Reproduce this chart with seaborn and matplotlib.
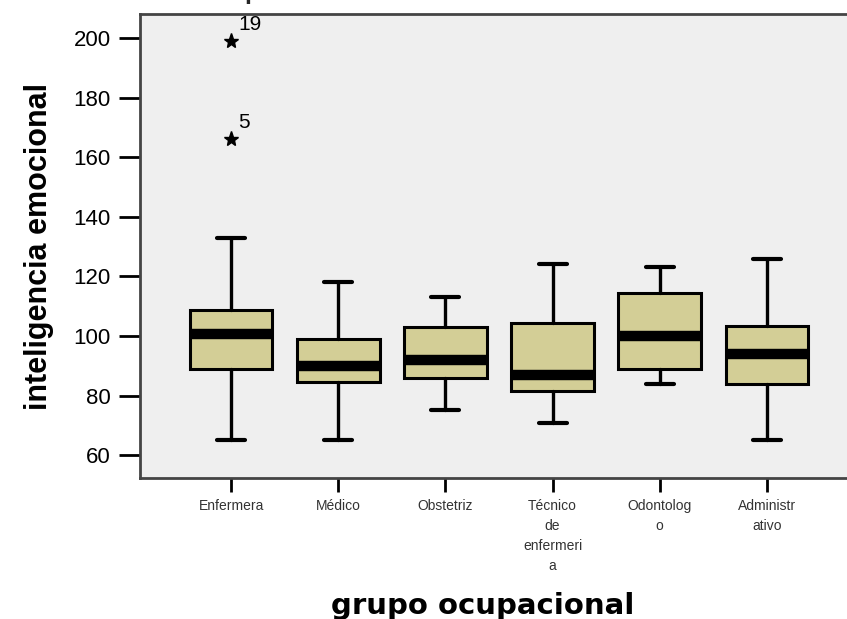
import numpy as np
import matplotlib
matplotlib.use("Agg")
import matplotlib.pyplot as plt
import seaborn as sns

# datos
grupos = ["Enfermera", "Médico", "Obstetriz", "Técnico\nde\nenfermeri\na", "Odontolog\no", "Administr\nativo"]
q1 = [89.0, 84.5, 86.0, 81.5, 89.0, 84.0]
mediana = [100.8, 90.0, 92.0, 87.0, 100.0, 94.0]
q3 = [108.7, 99.0, 103.0, 104.5, 114.5, 103.5]
bigote_inf = [65.0, 65.0, 75.0, 70.7, 84.0, 65.0]
bigote_sup = [133.0, 118.0, 113.0, 124.0, 123.0, 126.0]
extremos = [[199.0, 166.0], [], [], [], [], []]
extremos_id = [["19", "5"], [], [], [], [], []]

sns.set_style("white")
plt.rcParams['font.family'] = ['Liberation Sans', 'DejaVu Sans']

fig = plt.figure(figsize=(8.47, 6.19), dpi=100)
ax = fig.add_axes([140/847, (619-478)/619, (858-140)/847, (478-14)/619])
ax.set_facecolor("#efefef")

stats = []
for i in range(len(grupos)):
    stats.append(dict(label=grupos[i], med=mediana[i], q1=q1[i], q3=q3[i],
                      whislo=bigote_inf[i], whishi=bigote_sup[i], fliers=[]))

pos = np.arange(len(grupos))
ax.bxp(stats, positions=pos, widths=0.77, patch_artist=True, showfliers=False,
       boxprops=dict(facecolor="#d3ce96", edgecolor="black", linewidth=2.2),
       medianprops=dict(color="black", linewidth=7.5, solid_capstyle="butt"),
       whiskerprops=dict(color="black", linewidth=2.4),
       capprops=dict(color="black", linewidth=3),
       capwidths=0.26)

for i in range(len(grupos)):
    for v, lab in zip(extremos[i], extremos_id[i]):
        ax.plot(pos[i], v, marker="*", color="black", markersize=11, linestyle="none")
        ax.annotate(lab, (pos[i], v), xytext=(5, 5), textcoords="offset points",
                    fontsize=15, color="black", ha="left", va="bottom")

ax.set_xlim(-0.85, 5.85)
ax.set_ylim(52.3, 208.1)
ax.set_yticks([60, 80, 100, 120, 140, 160, 180, 200])
ax.set_xticks(pos)
ax.set_xticklabels(grupos, fontsize=10, color="#333333", linespacing=1.55)
ax.tick_params(axis="y", left=True, labelsize=16, length=15, width=2, direction="out",
               pad=6, colors="black")
ax.tick_params(axis="x", bottom=True, length=10, width=2, direction="out", pad=5,
               colors="black", labelcolor="#333333")

for s in ["left", "bottom", "top"]:
    ax.spines[s].set_visible(True)
    ax.spines[s].set_color("#444444")
    ax.spines[s].set_linewidth(2)
ax.spines["right"].set_visible(False)

ax.set_ylabel("inteligencia emocional", fontsize=22, fontweight="bold", labelpad=14,
              color="black")

# titulo del eje x
fig.text(483/847, 1 - 606/619, "grupo ocupacional", fontsize=21, fontweight="bold",
         family=["DejaVu Sans"], ha="center", va="center", color="black")

# titulo cortado en la parte superior
fig.text(252/847, 1 + 1/619, "p", fontsize=18, fontweight="bold", ha="center", va="baseline")

fig.savefig("out.png", dpi=100)
